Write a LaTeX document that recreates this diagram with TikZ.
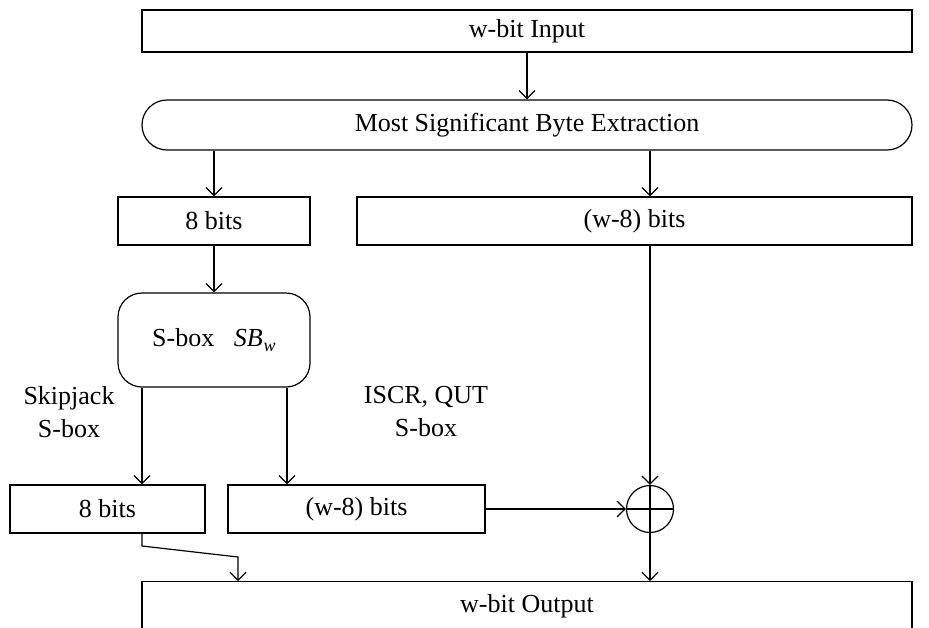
\documentclass[tikz,border=0pt]{standalone}
\usepackage{fontspec}
\setmainfont{Liberation Serif}
\usetikzlibrary{arrows.meta,positioning}

\tikzset{
  blk/.style={draw, line width=1.2pt, rectangle, inner sep=0pt, font=\fontsize{26}{31}\selectfont},
  rblk/.style={blk, rounded corners=#1},
  lbl/.style={align=center, inner sep=0pt, font=\fontsize{26}{33}\selectfont},
  flow/.style={line width=1.2pt, -{Straight Barb[length=8pt,width=16pt,line width=1.2pt]}},
  wire/.style={line width=1.2pt},
}

\begin{document}
\begin{tikzpicture}[x=1pt,y=-1pt]
  \useasboundingbox (0,0) rectangle (929,627);
  \clip (0,0) rectangle (929,627);

  % input and byte split
  \node[blk, minimum width=770pt, minimum height=42pt] (inp) at (527,31) {w-bit Input};
  \node[rblk=25pt, minimum width=770pt, minimum height=50pt] (msb) at (527,125) {Most Significant Byte Extraction};
  \node[blk, minimum width=192pt, minimum height=48pt] (hi) at (214,221) {8 bits};
  \node[blk, minimum width=555pt, minimum height=48pt] (lo) at (634.5,221) {(w-8) bits};

  % S-box stage
  \node[rblk=24pt, minimum width=192pt, minimum height=94pt] (sbox) at (214,340)
    {S-box\hspace{0.75em}\textit{SB}\kern1pt\raisebox{-0.45ex}{\fontsize{18}{18}\selectfont\textit{w}}};
  \node[lbl] (skj) at (69,412) {Skipjack\\S-box};
  \node[lbl] (iscr) at (426,412) {ISCR, QUT\\S-box};

  \node[blk, minimum width=195pt, minimum height=48pt] (ohi) at (107.5,509) {8 bits};
  \node[blk, minimum width=257pt, minimum height=48pt] (olo) at (356.5,509) {(w-8) bits};

  % XOR
  \node[draw, circle, line width=1.2pt, minimum size=47pt, inner sep=0pt] (xor) at (650,509) {};
  \draw[wire] (xor.north) -- (xor.south) (xor.west) -- (xor.east);

  % output
  \node[blk, minimum width=770pt, minimum height=100pt, anchor=north] (out) at (527,581) {};
  \node[lbl] (outtxt) at (527,606) {w-bit Output};

  % connectors
  \draw[flow] (inp.south) -- (msb.north);
  \draw[flow] (msb.south -| hi.north) -- (hi.north);
  \draw[flow] (msb.south -| 650,0) -- (lo.north -| 650,0);
  \draw[flow] (hi.south) -- (sbox.north);
  \draw[flow] (sbox.south -| 142,0) -- (ohi.north -| 142,0);
  \draw[flow] (sbox.south -| 287,0) -- (olo.north -| 287,0);
  \draw[flow] (olo.east) -- (xor.west);
  \draw[flow] (lo.south -| xor.north) -- (xor.north);
  \draw[flow] (xor.south) -- (out.north -| xor.south);
  \coordinate (k1) at (142,546);
  \coordinate (k2) at (238,557);
  \draw[flow] (ohi.south -| k1) -- (k1) -- (k2) -- (out.north -| k2);
\end{tikzpicture}
\end{document}
